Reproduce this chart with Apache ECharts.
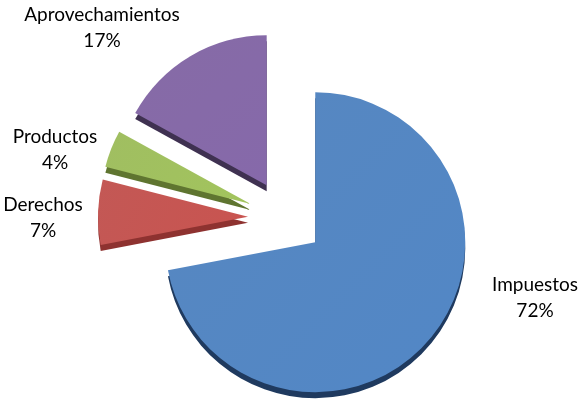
<!DOCTYPE html>
<html>
<head>
<meta charset="utf-8">
<script src="https://cdn.jsdelivr.net/npm/echarts@6/dist/echarts.min.js"></script>
<style>html,body{margin:0;padding:0;background:#fff;}#c{width:581px;height:400px;}</style>
</head>
<body>
<div id="c"></div>
<script>
const categories = ['Impuestos', 'Derechos', 'Productos', 'Aprovechamientos'];
const values = [72, 7, 4, 17];
const topColors = ['#4f81bd', '#c0504d', '#9bbb59', '#8064a2'];
const sideColors = ['#1f3a5f', '#8e3230', '#5f7530', '#3f3151'];
const labelPos = [[535, 298], [43, 218], [55, 150], [102, 28]];

const chart = echarts.init(document.getElementById('c'));
const center = [286, 218];
const radius = 150;
const depth = 6;
const total = values.reduce((a, b) => a + b, 0);
function mkData(colors, gradient) {
  return categories.map((n, i) => ({
    name: n, value: values[i], selected: true,
    itemStyle: {
      color: gradient ? new echarts.graphic.LinearGradient(0, 0, 1, 1, [
        {offset: 0, color: echarts.color.lift(colors[i], 0.05)},
        {offset: 1, color: echarts.color.lift(colors[i], -0.05)}
      ]) : colors[i]
    }
  }));
}
const textStyle = {fontFamily: 'Lato', fontSize: 19, fill: '#000', align: 'center', verticalAlign: 'middle'};
const graphics = [];
categories.forEach((n, i) => {
  graphics.push({type: 'text', x: labelPos[i][0], y: labelPos[i][1] - 13,
    style: Object.assign({text: n}, textStyle)});
  graphics.push({type: 'text', x: labelPos[i][0], y: labelPos[i][1] + 13,
    style: Object.assign({text: Math.round(values[i] / total * 100) + '%'}, textStyle)});
});
chart.setOption({
  animation: false,
  graphic: graphics,
  series: [
    {
      type: 'pie', silent: true,
      center: [center[0], center[1] + depth], radius: radius,
      startAngle: 90, clockwise: true,
      selectedMode: 'multiple', selectedOffset: 38,
      label: {show: false}, labelLine: {show: false},
      data: mkData(sideColors, false)
    },
    {
      type: 'pie',
      center: center, radius: radius,
      startAngle: 90, clockwise: true,
      selectedMode: 'multiple', selectedOffset: 38,
      itemStyle: {borderWidth: 0},
      label: {show: false},
      labelLine: {show: false},
      data: mkData(topColors, true)
    }
  ]
});
</script>
</body>
</html>
